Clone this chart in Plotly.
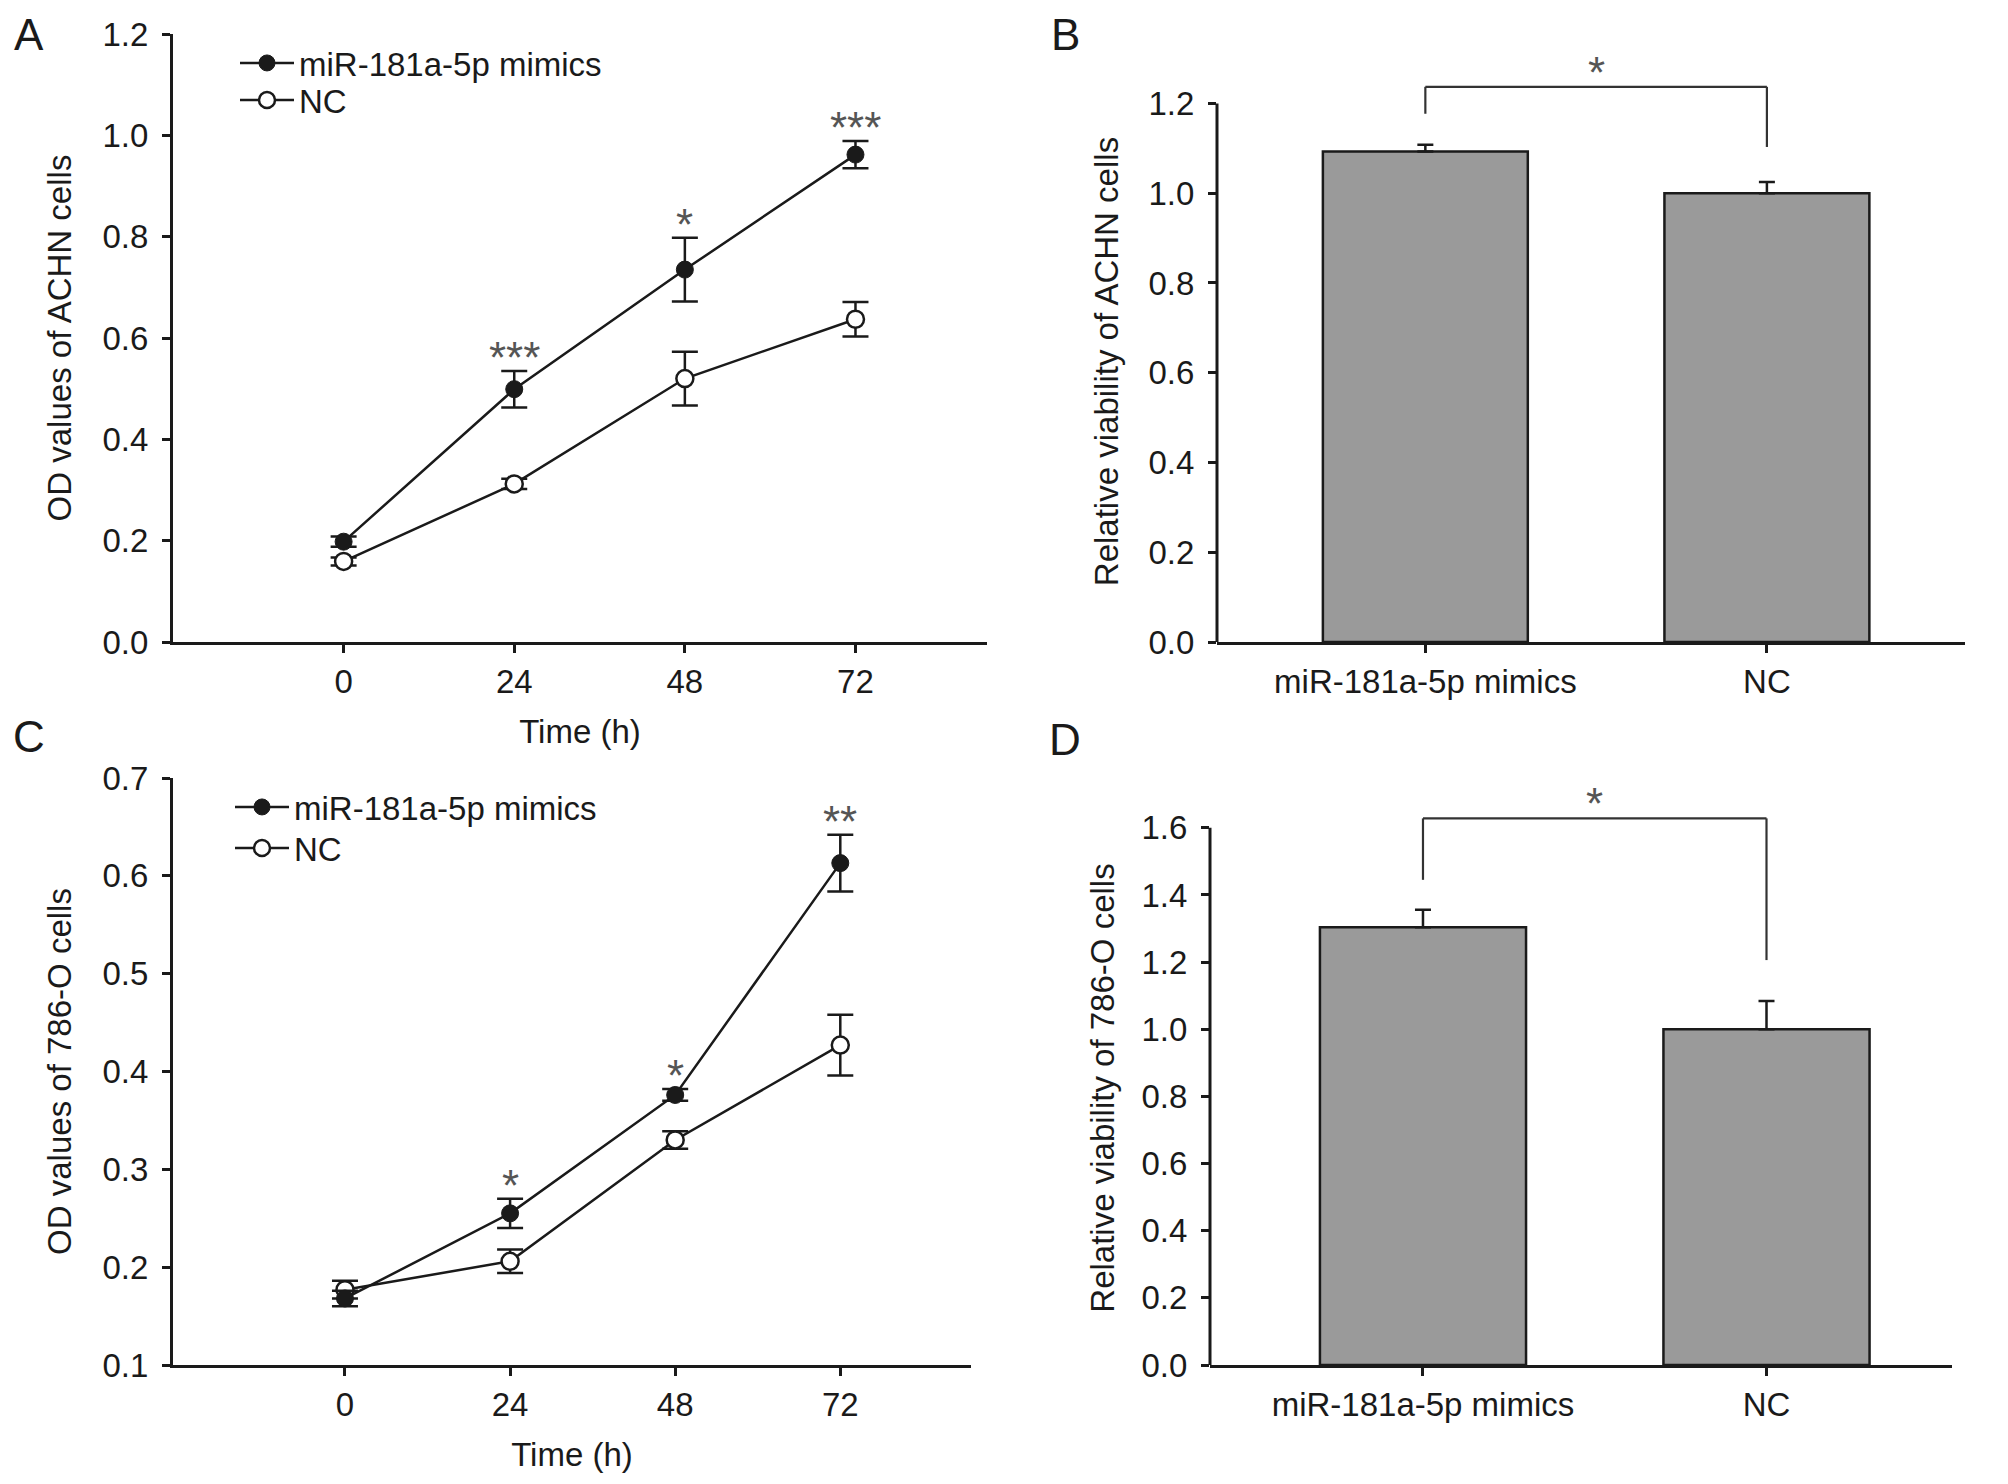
import plotly.graph_objects as go

# time course (panels A and C)
time_h = [0, 24, 48, 72]

achn_mimics = [0.198, 0.499, 0.735, 0.962]
achn_mimics_err = [0.010, 0.036, 0.063, 0.027]
achn_nc = [0.159, 0.312, 0.520, 0.637]
achn_nc_err = [0.008, 0.010, 0.053, 0.034]
achn_sig = ["", "***", "*", "***"]

o786_mimics = [0.168, 0.255, 0.376, 0.613]
o786_mimics_err = [0.008, 0.015, 0.006, 0.029]
o786_nc = [0.177, 0.206, 0.330, 0.427]
o786_nc_err = [0.009, 0.012, 0.009, 0.031]
o786_sig = ["", "*", "*", "**"]

# relative viability (panels B and D)
groups = ["miR-181a-5p mimics", "NC"]
achn_viab = [1.093, 1.0]
achn_viab_err = [0.015, 0.025]
o786_viab = [1.304, 1.0]
o786_viab_err = [0.052, 0.084]

# bracket levels for the significance marks: left arm end, top, right arm end
bracket_b = [1.177, 1.237, 1.103]
bracket_d = [1.445, 1.628, 1.206]

# the page puts an 8px body margin round the figure, so the figure is a bit
# smaller than the window and every position is measured from that offset
OFF = 8
W, H = 2008 - 2 * OFF, 1484 - 2 * OFF
FONT = "Arial, Liberation Sans, sans-serif"
INK = "#1a1a1a"
STAR = "#555555"


def px_x(p):
    return (p - OFF) / W


def px_y(p):
    return 1 - (p - OFF) / H


fig = go.Figure()


def add_lines(xa, ya, legends, mimics, mimics_err, nc, nc_err):
    fig.add_trace(go.Scatter(
        x=time_h, y=nc, name="NC", xaxis=xa, yaxis=ya, legend=legends[1],
        mode="lines+markers",
        line=dict(color=INK, width=2.5),
        marker=dict(symbol="circle", size=17, color="white",
                    line=dict(color=INK, width=2.5)),
        error_y=dict(type="data", array=nc_err, color=INK, thickness=2.5, width=13),
    ))
    fig.add_trace(go.Scatter(
        x=time_h, y=mimics, name="miR-181a-5p mimics", xaxis=xa, yaxis=ya, legend=legends[0],
        mode="lines+markers",
        line=dict(color=INK, width=2.5),
        marker=dict(symbol="circle", size=17, color=INK,
                    line=dict(color=INK, width=1)),
        error_y=dict(type="data", array=mimics_err, color=INK, thickness=2.5, width=13),
    ))


def add_stars(xa, ya, sig, mimics, mimics_err):
    for t, s, m, e in zip(time_h, sig, mimics, mimics_err):
        if not s:
            continue
        fig.add_annotation(x=t, y=m + e, xref=xa, yref=ya, text=s, showarrow=False,
                           yanchor="bottom", yshift=-13,
                           font=dict(family=FONT, size=44, color=STAR))


def add_bars(xa, ya, vals, errs):
    fig.add_trace(go.Bar(
        x=groups, y=vals, xaxis=xa, yaxis=ya, width=0.6, showlegend=False,
        marker=dict(color="#9a9a9a", line=dict(color=INK, width=2.5)),
        error_y=dict(type="data", symmetric=False, array=errs, arrayminus=[0] * len(errs),
                     color=INK, thickness=2.5, width=8),
    ))


def add_bracket(xa, ya, levels):
    left, top, right = levels
    style = dict(color="#333333", width=2.2)
    fig.add_shape(type="line", xref=xa, yref=ya, x0=0, x1=0, y0=left, y1=top, line=style)
    fig.add_shape(type="line", xref=xa, yref=ya, x0=0, x1=1, y0=top, y1=top, line=style)
    fig.add_shape(type="line", xref=xa, yref=ya, x0=1, x1=1, y0=top, y1=right, line=style)
    fig.add_annotation(x=0.5, y=top, xref=xa, yref=ya, text="*", showarrow=False,
                       yanchor="bottom", yshift=-12,
                       font=dict(family=FONT, size=44, color=STAR))


add_lines("x", "y", ["legend", "legend2"], achn_mimics, achn_mimics_err, achn_nc, achn_nc_err)
add_stars("x", "y", achn_sig, achn_mimics, achn_mimics_err)
add_bars("x2", "y2", achn_viab, achn_viab_err)
add_bracket("x2", "y2", bracket_b)
add_lines("x3", "y3", ["legend3", "legend4"], o786_mimics, o786_mimics_err, o786_nc, o786_nc_err)
add_stars("x3", "y3", o786_sig, o786_mimics, o786_mimics_err)
add_bars("x4", "y4", o786_viab, o786_viab_err)
add_bracket("x4", "y4", bracket_d)

tickfont = dict(family=FONT, size=33, color=INK)
titlefont = dict(family=FONT, size=33, color=INK)
axis_common = dict(showline=True, linecolor=INK, linewidth=3, ticks="outside",
                   ticklen=8, tickwidth=3, tickcolor=INK, tickfont=tickfont,
                   showgrid=False, zeroline=False, mirror=False, automargin=False)
yaxis_extra = dict(ticklabelstandoff=7)


def legend_at(x, y):
    return dict(x=px_x(x), y=px_y(y), xanchor="left", yanchor="middle",
                bgcolor="rgba(0,0,0,0)", font=dict(family=FONT, size=33, color=INK),
                itemsizing="trace", itemwidth=54)


fig.update_layout(
    width=W, height=H,
    margin=dict(l=0, r=0, t=0, b=0, autoexpand=False),
    paper_bgcolor="white", plot_bgcolor="white",
    font=dict(family=FONT, color=INK),
    barmode="overlay",
    # panel A
    xaxis=dict(axis_common, domain=[px_x(173), px_x(987)], range=[-24, 90.5],
               tickvals=time_h, anchor="y",
               title=dict(text="Time (h)", font=titlefont, standoff=22)),
    yaxis=dict(axis_common, **yaxis_extra, domain=[px_y(642), px_y(34)], range=[0, 1.2],
               tickvals=[0, 0.2, 0.4, 0.6, 0.8, 1.0, 1.2], tickformat=".1f", anchor="x",
               title=dict(text="OD values of ACHN cells", font=titlefont, standoff=21)),
    # panel B
    xaxis2=dict(axis_common, domain=[px_x(1217), px_x(1965)], range=[-0.61, 1.58],
                type="category", anchor="y2"),
    yaxis2=dict(axis_common, **yaxis_extra, showline=False, domain=[px_y(642), px_y(81)],
                range=[0, 1.25], tickvals=[0, 0.2, 0.4, 0.6, 0.8, 1.0, 1.2], tickformat=".1f",
                anchor="x2",
                title=dict(text="Relative viability of ACHN cells", font=titlefont, standoff=19)),
    # panel C
    xaxis3=dict(axis_common, domain=[px_x(173), px_x(971)], range=[-25, 91],
                tickvals=time_h, anchor="y3",
                title=dict(text="Time (h)", font=titlefont, standoff=22)),
    yaxis3=dict(axis_common, **yaxis_extra, domain=[px_y(1365), px_y(778)], range=[0.1, 0.7],
                tickvals=[0.1, 0.2, 0.3, 0.4, 0.5, 0.6, 0.7], tickformat=".1f", anchor="x3",
                title=dict(text="OD values of 786-O cells", font=titlefont, standoff=21)),
    # panel D
    xaxis4=dict(axis_common, domain=[px_x(1210), px_x(1952)], range=[-0.62, 1.54],
                type="category", anchor="y4"),
    yaxis4=dict(axis_common, **yaxis_extra, showline=False, domain=[px_y(1365), px_y(811)],
                range=[0, 1.65], tickvals=[0, 0.2, 0.4, 0.6, 0.8, 1.0, 1.2, 1.4, 1.6],
                tickformat=".1f", anchor="x4",
                title=dict(text="Relative viability of 786-O cells", font=titlefont, standoff=16)),
    legend=legend_at(235, 63),
    legend2=legend_at(235, 100),
    legend3=legend_at(230, 807),
    legend4=legend_at(230, 848),
)

# y axis lines of the bar panels stop at the top tick
fig.add_shape(type="line", xref="x2 domain", yref="y2", x0=0, x1=0, y0=0, y1=1.2,
              line=dict(color=INK, width=3))
fig.add_shape(type="line", xref="x4 domain", yref="y4", x0=0, x1=0, y0=0, y1=1.6,
              line=dict(color=INK, width=3))

# panel letters; the top row hangs from the top edge so it is not cut
letter_font = dict(family=FONT, size=44, color=INK)
for letter, lx in zip("AB", [29, 1065]):
    fig.add_annotation(x=px_x(lx), y=1, xref="paper", yref="paper", text=letter,
                       showarrow=False, xanchor="center", yanchor="top", font=letter_font)
for letter, (lx, ly) in zip("CD", [(29, 737), (1065, 740)]):
    fig.add_annotation(x=px_x(lx), y=px_y(ly), xref="paper", yref="paper", text=letter,
                       showarrow=False, xanchor="center", yanchor="middle", font=letter_font)

fig.write_html("out.html")
